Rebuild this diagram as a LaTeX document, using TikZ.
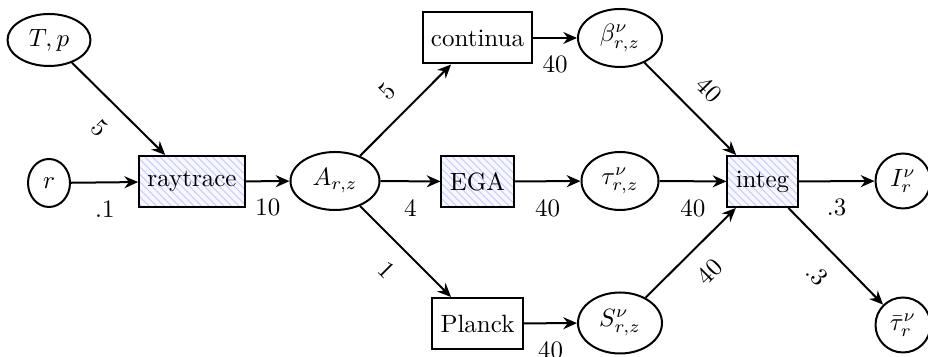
\documentclass[tikz,border=0pt]{standalone}
\usetikzlibrary{shapes.geometric,arrows.meta,patterns}
\begin{document}
\begin{tikzpicture}[x=0.4pt,y=-0.4pt,
  ell/.style={draw,thick,ellipse,inner sep=0pt},
  box/.style={draw,thick,rectangle,minimum height=20.4pt},
  hatch/.style={box,preaction={fill=blue!3},pattern=north west lines,pattern color=blue!22},
  conn/.style={thick,-{Stealth[length=5.5pt,width=4.8pt,inset=1.8pt]}},
  lbl/.style={inner sep=6.8pt,sloped,midway}
]
\useasboundingbox (0,0) rectangle (928,357);
% ellipses
\node[ell,minimum width=33.2pt,minimum height=20.8pt] (Tp) at (49,40) {$T,p$};
\node[ell,minimum width=16.8pt,minimum height=19.2pt] (r) at (49,183) {$r$};
\node[ell,minimum width=35.6pt,minimum height=23.2pt] (A) at (335,181) {$A_{r,z}$};
\node[ell,minimum width=33.6pt,minimum height=23.2pt] (beta) at (620,38) {$\beta^\nu_{r,z}$};
\node[ell,minimum width=30.8pt,minimum height=23.2pt] (tau) at (620,181) {$\tau^\nu_{r,z}$};
\node[ell,minimum width=33.6pt,minimum height=24.4pt] (S) at (620,323) {$S^\nu_{r,z}$};
\node[ell,minimum width=22pt,minimum height=22pt] (I) at (903,181) {$I^\nu_r$};
\node[ell,minimum width=22pt,minimum height=22pt] (taub) at (903,325) {$\bar\tau^\nu_r$};
% boxes
\node[hatch] (ray) at (192,181.5) {raytrace};
\node[box] (cont) at (477.5,38) {continua};
\node[hatch] (ega) at (477.5,181.5) {EGA};
\node[box] (planck) at (477.5,323.5) {Planck};
\node[hatch] (integ) at (762.5,181.5) {integ};
% connectors
\draw[conn] (Tp) -- node[lbl,below] {5} (ray);
\draw[conn] (r) -- node[lbl,below] {.1} (ray);
\draw[conn] (ray) -- node[lbl,below] {10} (A);
\draw[conn] (A) -- node[lbl,above] {5} (cont);
\draw[conn] (A) -- node[lbl,below] {4} (ega);
\draw[conn] (A) -- node[lbl,below] {1} (planck);
\draw[conn] (cont) -- node[lbl,below] {40} (beta);
\draw[conn] (ega) -- node[lbl,below] {40} (tau);
\draw[conn] (planck) -- node[lbl,below] {40} (S);
\draw[conn] (beta) -- node[lbl,above] {40} (integ);
\draw[conn] (tau) -- node[lbl,below] {40} (integ);
\draw[conn] (S) -- node[lbl,below] {40} (integ);
\draw[conn] (integ) -- node[lbl,below] {.3} (I);
\draw[conn] (integ) -- node[lbl,below] {.3} (taub);
\end{tikzpicture}
\end{document}
